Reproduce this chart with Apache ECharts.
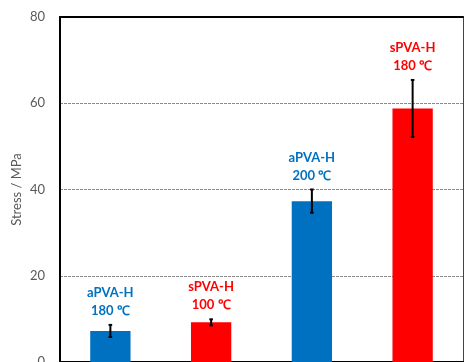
<!DOCTYPE html>
<html>
<head>
<meta charset="utf-8">
<script src="https://cdn.jsdelivr.net/npm/echarts@6/dist/echarts.min.js"></script>
<style>
  html, body { margin: 0; padding: 0; background: #fff; }
  #chart { width: 466px; height: 362px; }
</style>
</head>
<body>
<div id="chart"></div>
<script>
// Tensile stress of the hydrogel samples (mean ± standard deviation)
const sampleNames = ['aPVA-H', 'sPVA-H', 'aPVA-H', 'sPVA-H'];
const temperatures = ['180 ℃', '100 ℃', '200 ℃', '180 ℃'];
const stressMean = [7.2, 9.2, 37.3, 58.8];
const stressErr = [1.4, 0.7, 2.7, 6.6];
const yTicks = [0, 20, 40, 60, 80];

const BLUE = '#0070C0';
const RED = '#FF0000';
const barColors = [BLUE, RED, BLUE, RED];
const categories = sampleNames.map((n, i) => n + ' ' + temperatures[i]);

const FONT = 'Lato, "Open Sans", sans-serif';

const chart = echarts.init(document.getElementById('chart'));

chart.setOption({
  animation: false,
  grid: { left: 60, right: 3, top: 17, bottom: 0, containLabel: false, outerBoundsMode: 'none' },
  xAxis: [
    {
      type: 'category',
      data: categories,
      axisLine: { onZero: false, lineStyle: { color: '#000', width: 2 } },
      axisTick: { show: false },
      axisLabel: { show: false }
    },
    {
      type: 'category',
      position: 'top',
      data: categories,
      axisLine: { onZero: false, lineStyle: { color: '#000', width: 2 } },
      axisTick: { show: false },
      axisLabel: { show: false }
    }
  ],
  yAxis: [
    {
      type: 'value',
      min: yTicks[0],
      max: yTicks[yTicks.length - 1],
      interval: 20,
      name: 'Stress / MPa',
      nameLocation: 'middle',
      nameGap: 37,
      nameMoveOverlap: false,
      nameTextStyle: { color: '#595959', fontSize: 13, fontFamily: FONT },
      axisLine: { show: true, onZero: false, lineStyle: { color: '#000', width: 2 } },
      axisTick: { show: false },
      axisLabel: { color: '#595959', fontSize: 13, fontFamily: FONT, margin: 15 },
      splitLine: { lineStyle: { color: '#8a8a8a', type: [3, 1], width: 1 } }
    },
    {
      type: 'value',
      position: 'right',
      min: yTicks[0],
      max: yTicks[yTicks.length - 1],
      interval: 20,
      axisLine: { show: true, onZero: false, lineStyle: { color: '#444', width: 1 } },
      axisTick: { show: false },
      axisLabel: { show: false },
      splitLine: { show: false }
    }
  ],
  series: [
    {
      type: 'bar',
      barWidth: '40%',
      data: stressMean.map((v, i) => ({ value: v, itemStyle: { color: barColors[i] } })),
      z: 2
    },
    {
      type: 'custom',
      z: 5,
      data: stressMean.map((v, i) => [i, v - stressErr[i], v + stressErr[i]]),
      renderItem: function (params, api) {
        const idx = api.value(0);
        const lo = api.coord([idx, api.value(1)]);
        const hi = api.coord([idx, api.value(2)]);
        const x = lo[0];
        const cap = 1.8;
        const stroke = { stroke: '#000', lineWidth: 2 };
        return {
          type: 'group',
          children: [
            { type: 'line', shape: { x1: x, y1: lo[1], x2: x, y2: hi[1] }, style: stroke },
            { type: 'line', shape: { x1: x - cap, y1: lo[1], x2: x + cap, y2: lo[1] }, style: stroke },
            { type: 'line', shape: { x1: x - cap, y1: hi[1], x2: x + cap, y2: hi[1] }, style: stroke },
            {
              type: 'text',
              x: x,
              y: hi[1] - 5,
              style: {
                text: sampleNames[idx] + '\n' + temperatures[idx],
                fill: barColors[idx],
                font: 'bold 13px ' + FONT,
                lineHeight: 18,
                align: 'center',
                verticalAlign: 'bottom'
              }
            }
          ]
        };
      }
    }
  ]
});
</script>
</body>
</html>
